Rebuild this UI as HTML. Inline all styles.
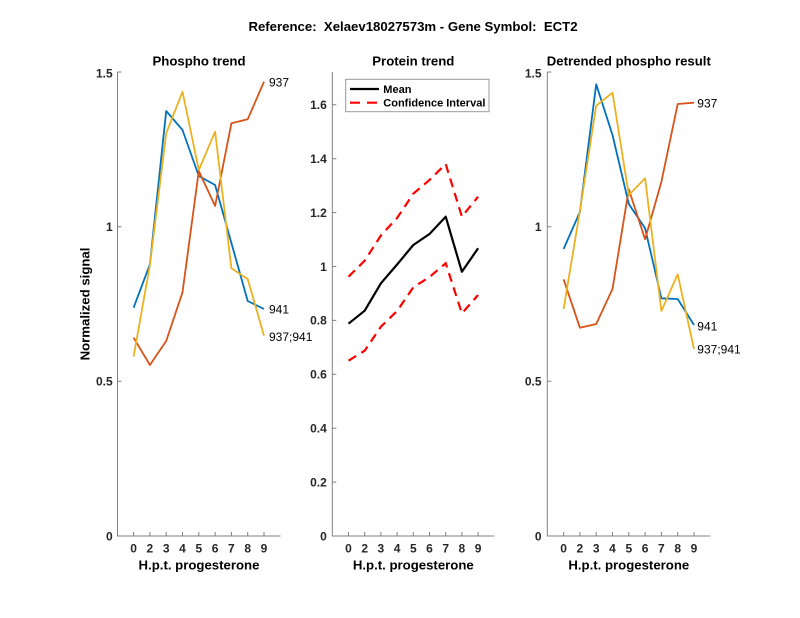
<!DOCTYPE html>
<html>
<head>
<meta charset="utf-8">
<style>
html,body{margin:0;padding:0;background:#fff;}
svg{display:block;}
text{font-family:"Liberation Sans",Arial,sans-serif;white-space:pre;}
.t{font-weight:bold;font-size:13.2px;fill:#000;}
.tk{font-weight:bold;font-size:12px;fill:#262626;}
.lb{font-size:12px;fill:#000;}
.ax{stroke:#808080;stroke-width:1;fill:none;}
.s{fill:none;stroke-width:1.8;stroke-linejoin:round;}
</style>
</head>
<body>
<svg width="800" height="618" viewBox="0 0 800 618" xmlns="http://www.w3.org/2000/svg">
<rect width="800" height="618" fill="#fff"/>
<text class="t" x="413" y="31" text-anchor="middle">Reference:  Xelaev18027573m - Gene Symbol:  ECT2</text>

<!-- LEFT PANEL -->
<text class="t" x="199" y="65.5" text-anchor="middle">Phospho trend</text>
<path class="ax" d="M117.5,72 V536 H280.5"/>
<path class="ax" d="M117.5,72 h4 M117.5,226.7 h4 M117.5,381.3 h4 M133.6,536 v-4 M149.9,536 v-4 M166.2,536 v-4 M182.5,536 v-4 M198.8,536 v-4 M215.1,536 v-4 M231.4,536 v-4 M247.7,536 v-4 M264,536 v-4"/>
<g class="tk" text-anchor="end">
<text x="112.7" y="77.3">1.5</text>
<text x="112.7" y="231">1</text>
<text x="112.7" y="385.6">0.5</text>
<text x="112.7" y="540.3">0</text>
</g>
<g class="tk" text-anchor="middle">
<text x="133.6" y="552.5">0</text><text x="149.9" y="552.5">2</text><text x="166.2" y="552.5">3</text><text x="182.5" y="552.5">4</text><text x="198.8" y="552.5">5</text><text x="215.1" y="552.5">6</text><text x="231.4" y="552.5">7</text><text x="247.7" y="552.5">8</text><text x="264" y="552.5">9</text>
</g>
<text class="t" x="199" y="569.5" text-anchor="middle">H.p.t. progesterone</text>
<text class="t" x="0" y="0" text-anchor="middle" transform="translate(89.5,304) rotate(-90)">Normalized signal</text>
<polyline class="s" stroke="#0072BD" points="133.6,307.7 149.9,264.3 166.2,111 182.5,130 198.8,176 215.1,185 231.4,243 247.7,301 264,309"/>
<polyline class="s" stroke="#D95319" points="133.6,337.7 149.9,365 166.2,341 182.5,292.3 198.8,171 215.1,206 231.4,123.3 247.7,119.3 264,81.7"/>
<polyline class="s" stroke="#EDB120" points="133.6,356.7 149.9,265 166.2,133.3 182.5,91.7 198.8,170 215.1,131.7 231.4,268.3 247.7,279 264,335.7"/>
<text class="lb" x="269" y="86.5">937</text>
<text class="lb" x="269" y="313.5">941</text>
<text class="lb" x="269" y="341">937;941</text>

<!-- MIDDLE PANEL -->
<text class="t" x="413.3" y="65.5" text-anchor="middle">Protein trend</text>
<path class="ax" d="M332.3,72 V536 H494.3"/>
<path class="ax" d="M332.3,482.1 h4 M332.3,428.2 h4 M332.3,374.3 h4 M332.3,320.4 h4 M332.3,266.5 h4 M332.3,212.6 h4 M332.3,158.7 h4 M332.3,104.8 h4 M348.5,536 v-4 M364.7,536 v-4 M380.9,536 v-4 M397.1,536 v-4 M413.3,536 v-4 M429.5,536 v-4 M445.7,536 v-4 M461.9,536 v-4 M478.1,536 v-4"/>
<g class="tk" text-anchor="end">
<text x="326.8" y="540.3">0</text>
<text x="326.8" y="486.4">0.2</text>
<text x="326.8" y="432.5">0.4</text>
<text x="326.8" y="378.6">0.6</text>
<text x="326.8" y="324.7">0.8</text>
<text x="326.8" y="270.8">1</text>
<text x="326.8" y="216.9">1.2</text>
<text x="326.8" y="163">1.4</text>
<text x="326.8" y="109.1">1.6</text>
</g>
<g class="tk" text-anchor="middle">
<text x="348.5" y="552.5">0</text><text x="364.7" y="552.5">2</text><text x="380.9" y="552.5">3</text><text x="397.1" y="552.5">4</text><text x="413.3" y="552.5">5</text><text x="429.5" y="552.5">6</text><text x="445.7" y="552.5">7</text><text x="461.9" y="552.5">8</text><text x="478.1" y="552.5">9</text>
</g>
<text class="t" x="413.3" y="569.5" text-anchor="middle">H.p.t. progesterone</text>
<polyline fill="none" stroke="#000" stroke-width="2.2" stroke-linejoin="round" points="348.5,323.7 364.7,310.7 380.9,283.3 397.1,264.5 413.3,245 429.5,234 445.7,216.7 461.9,271.7 478.1,248.3"/>
<polyline fill="none" stroke="#FF0000" stroke-width="2.2" stroke-dasharray="9 6" points="348.5,276.7 364.7,260.7 380.9,235.5 397.1,218 413.3,193.7 429.5,180 445.7,164 461.9,216.7 478.1,196.7"/>
<polyline fill="none" stroke="#FF0000" stroke-width="2.2" stroke-dasharray="9 6" points="348.5,360.7 364.7,350.7 380.9,326.7 397.1,311 413.3,287.3 429.5,277 445.7,263.3 461.9,313.3 478.1,295"/>
<rect x="345.7" y="79.3" width="143.3" height="32.4" fill="#fff" stroke="#999" stroke-width="1"/>
<line x1="350" y1="89" x2="379" y2="89" stroke="#000" stroke-width="2.2"/>
<line x1="350" y1="102.7" x2="379" y2="102.7" stroke="#FF0000" stroke-width="2.2" stroke-dasharray="10 7"/>
<text x="383.3" y="93" style="font-weight:bold;font-size:11px;fill:#000">Mean</text>
<text x="383.3" y="106.7" style="font-weight:bold;font-size:11px;fill:#000">Confidence Interval</text>

<!-- RIGHT PANEL -->
<text class="t" x="628.8" y="65.5" text-anchor="middle">Detrended phospho result</text>
<path class="ax" d="M547.3,72 V536 H710.3"/>
<path class="ax" d="M547.3,72 h4 M547.3,226.7 h4 M547.3,381.3 h4 M563.6,536 v-4 M579.9,536 v-4 M596.2,536 v-4 M612.5,536 v-4 M628.8,536 v-4 M645.1,536 v-4 M661.4,536 v-4 M677.7,536 v-4 M694,536 v-4"/>
<g class="tk" text-anchor="end">
<text x="541.5" y="77.3">1.5</text>
<text x="541.5" y="231">1</text>
<text x="541.5" y="385.6">0.5</text>
<text x="541.5" y="540.3">0</text>
</g>
<g class="tk" text-anchor="middle">
<text x="563.6" y="552.5">0</text><text x="579.9" y="552.5">2</text><text x="596.2" y="552.5">3</text><text x="612.5" y="552.5">4</text><text x="628.8" y="552.5">5</text><text x="645.1" y="552.5">6</text><text x="661.4" y="552.5">7</text><text x="677.7" y="552.5">8</text><text x="694" y="552.5">9</text>
</g>
<text class="t" x="628.8" y="569.5" text-anchor="middle">H.p.t. progesterone</text>
<polyline class="s" stroke="#0072BD" points="563.6,249 579.9,212 596.2,84.3 612.5,135 628.8,204 645.1,228.3 661.4,298.3 677.7,299 694,325"/>
<polyline class="s" stroke="#D95319" points="563.6,279.3 579.9,327.7 596.2,324 612.5,289 628.8,189.3 645.1,239.3 661.4,181.7 677.7,104 694,102.7"/>
<polyline class="s" stroke="#EDB120" points="563.6,309 579.9,211 596.2,105.7 612.5,92.7 628.8,195 645.1,178.3 661.4,311 677.7,274.3 694,349"/>
<text class="lb" x="697.3" y="107.5">937</text>
<text class="lb" x="697.3" y="330.3">941</text>
<text class="lb" x="697.3" y="353.5">937;941</text>
</svg>
</body>
</html>
